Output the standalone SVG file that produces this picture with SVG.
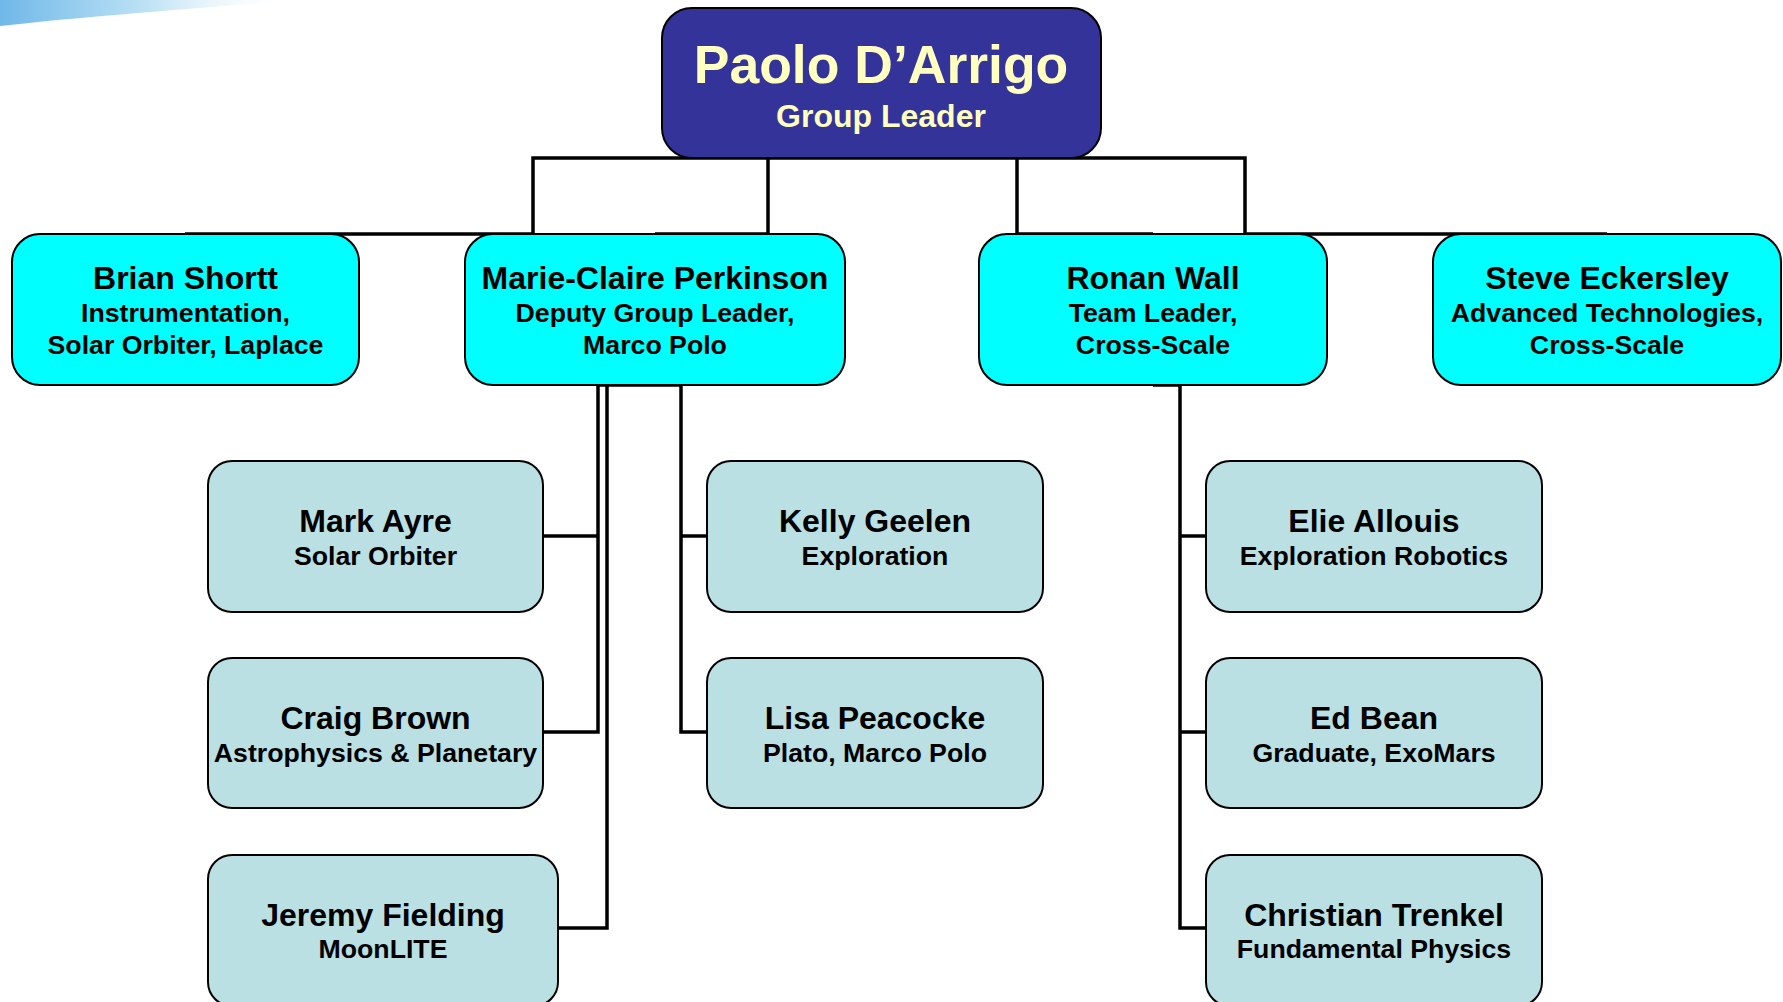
<svg xmlns="http://www.w3.org/2000/svg" width="1783" height="1002" viewBox="0 0 1783 1002">
<defs>
<linearGradient id="swoosh" x1="0" y1="0" x2="1" y2="0">
<stop offset="0" stop-color="#6FB8E8"/>
<stop offset="0.5" stop-color="#BFE3F5"/>
<stop offset="1" stop-color="#FFFFFF" stop-opacity="0"/>
</linearGradient>
<style>
.t{font-family:"Liberation Sans",Arial,sans-serif;font-weight:bold;text-anchor:middle;fill:#000}
.nm{font-size:32px}
.sb{font-size:26.7px}
.top{fill:#00FFFF;stroke:#000;stroke-width:2}
.low{fill:#BBE0E3;stroke:#000;stroke-width:2}
.c{fill:none;stroke:#000;stroke-width:3.5;stroke-linejoin:miter}
</style>
</defs>
<rect width="1783" height="1002" fill="#FFFFFF"/>
<path d="M0,0 L300,0 C200,8 90,16 0,26 Z" fill="url(#swoosh)"/>

<g id="connectors">
<path class="c" d="M533,234 L533,158 L1245,158 L1245,234"/>
<path class="c" d="M533,234 L185,234"/>
<path class="c" d="M768,158 L768,234 L655,234"/>
<path class="c" d="M1017,158 L1017,234 L1153,234"/>
<path class="c" d="M1245,234 L1607,234"/>
<path class="c" d="M598,385 L681,385"/>
<path class="c" d="M598,385 L598,732 L543,732"/>
<path class="c" d="M598,536 L543,536"/>
<path class="c" d="M607,385 L607,928 L558,928"/>
<path class="c" d="M681,385 L681,732 L707,732"/>
<path class="c" d="M681,536 L707,536"/>
<path class="c" d="M1153,385 L1180,385 L1180,928 L1206,928"/>
<path class="c" d="M1180,536 L1206,536"/>
<path class="c" d="M1180,732 L1206,732"/>
</g>

<g id="paolo">
<rect x="662" y="8" width="439" height="150" rx="30" fill="#333399" stroke="#000" stroke-width="2"/>
<text class="t" x="881" y="83" style="font-size:53.5px;fill:#FFFFC0">Paolo D’Arrigo</text>
<text class="t" x="881" y="127" style="font-size:32px;fill:#FFFFC0">Group Leader</text>
</g>

<g id="brian">
<rect class="top" x="12" y="234" width="347" height="151" rx="28"/>
<text class="t nm" x="185.5" y="289">Brian Shortt</text>
<text class="t sb" x="185.5" y="322">Instrumentation,</text>
<text class="t sb" x="185.5" y="354">Solar Orbiter, Laplace</text>
</g>

<g id="marie">
<rect class="top" x="465" y="234" width="380" height="151" rx="28"/>
<text class="t nm" x="655" y="289">Marie-Claire Perkinson</text>
<text class="t sb" x="655" y="322">Deputy Group Leader,</text>
<text class="t sb" x="655" y="354">Marco Polo</text>
</g>

<g id="ronan">
<rect class="top" x="979" y="234" width="348" height="151" rx="28"/>
<text class="t nm" x="1153" y="289">Ronan Wall</text>
<text class="t sb" x="1153" y="322">Team Leader,</text>
<text class="t sb" x="1153" y="354">Cross-Scale</text>
</g>

<g id="steve">
<rect class="top" x="1433" y="234" width="348" height="151" rx="28"/>
<text class="t nm" x="1607" y="289">Steve Eckersley</text>
<text class="t sb" x="1607" y="322">Advanced Technologies,</text>
<text class="t sb" x="1607" y="354">Cross-Scale</text>
</g>

<g id="mark">
<rect class="low" x="208" y="461" width="335" height="151" rx="24"/>
<text class="t nm" x="375.5" y="532">Mark Ayre</text>
<text class="t sb" x="375.5" y="565">Solar Orbiter</text>
</g>

<g id="craig">
<rect class="low" x="208" y="658" width="335" height="150" rx="24"/>
<text class="t nm" x="375.5" y="729">Craig Brown</text>
<text class="t sb" x="375.5" y="762">Astrophysics &amp; Planetary</text>
</g>

<g id="jeremy">
<rect class="low" x="208" y="855" width="350" height="151" rx="24"/>
<text class="t nm" x="383" y="926">Jeremy Fielding</text>
<text class="t sb" x="383" y="958">MoonLITE</text>
</g>

<g id="kelly">
<rect class="low" x="707" y="461" width="336" height="151" rx="24"/>
<text class="t nm" x="875" y="532">Kelly Geelen</text>
<text class="t sb" x="875" y="565">Exploration</text>
</g>

<g id="lisa">
<rect class="low" x="707" y="658" width="336" height="150" rx="24"/>
<text class="t nm" x="875" y="729">Lisa Peacocke</text>
<text class="t sb" x="875" y="762">Plato, Marco Polo</text>
</g>

<g id="elie">
<rect class="low" x="1206" y="461" width="336" height="151" rx="24"/>
<text class="t nm" x="1374" y="532">Elie Allouis</text>
<text class="t sb" x="1374" y="565">Exploration Robotics</text>
</g>

<g id="ed">
<rect class="low" x="1206" y="658" width="336" height="150" rx="24"/>
<text class="t nm" x="1374" y="729">Ed Bean</text>
<text class="t sb" x="1374" y="762">Graduate, ExoMars</text>
</g>

<g id="christian">
<rect class="low" x="1206" y="855" width="336" height="151" rx="24"/>
<text class="t nm" x="1374" y="926">Christian Trenkel</text>
<text class="t sb" x="1374" y="958">Fundamental Physics</text>
</g>
</svg>
